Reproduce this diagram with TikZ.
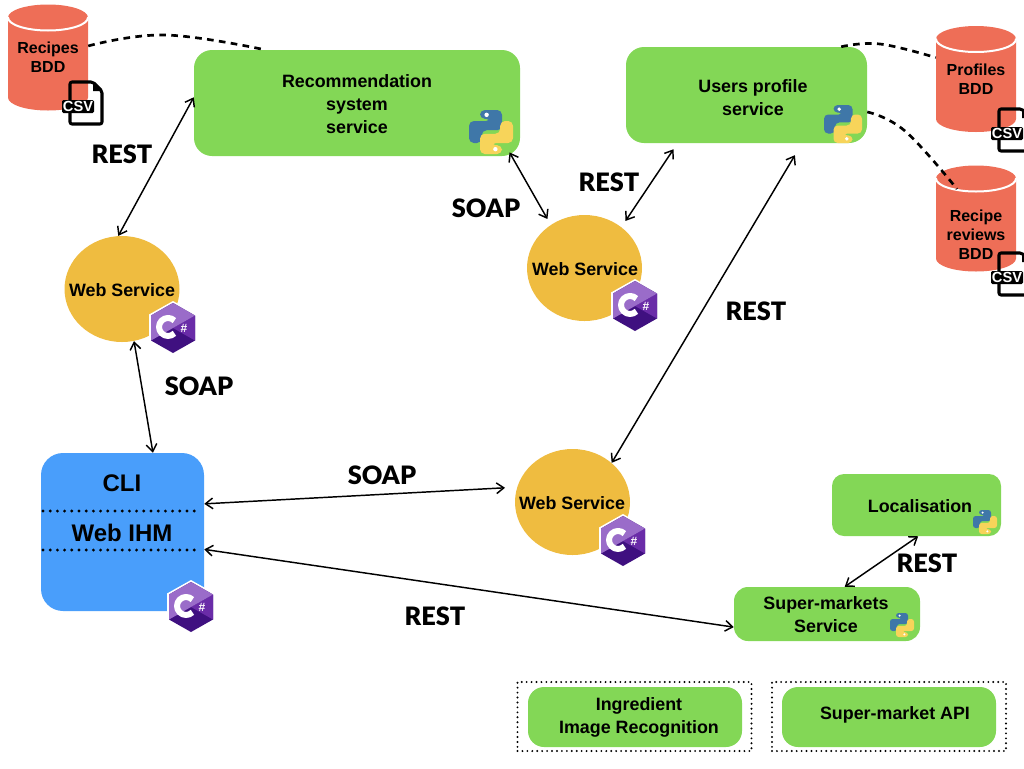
\documentclass[tikz,border=0pt]{standalone}
\usepackage{fontspec}
\setmainfont{Liberation Sans}
\newfontfamily\linkfont{Lato Black}
\usetikzlibrary{shapes.geometric,arrows.meta}
\definecolor{svcgreen}{HTML}{83D756}
\definecolor{dbred}{HTML}{EE6E57}
\definecolor{wsyellow}{HTML}{EFBC40}
\definecolor{cliblue}{HTML}{499EFB}
\definecolor{pyblue}{HTML}{3F77A8}
\definecolor{pyyellow}{HTML}{F7D45A}
\definecolor{cslight}{HTML}{9A6CC9}
\definecolor{csmid}{HTML}{6A2CA8}
\definecolor{csdark}{HTML}{3F1080}
\def\px{0.75pt}
\begin{document}
\begin{tikzpicture}[>={Straight Barb[length=5.5pt,width=8pt]},line join=round,line cap=round,font=\bfseries\fontsize{13.4pt}{17.2pt}\selectfont,x=0.75pt,y=-0.75pt]
\tikzset{svcbox/.style n args={3}{fill=svcgreen,rounded corners=#3*\px,minimum width=#1*\px,minimum height=#2*\px,inner sep=0pt,align=center}}
\tikzset{wsnode/.style={ellipse,fill=wsyellow,minimum width=115*\px,minimum height=106*\px,inner sep=0pt}}
\tikzset{dbnode/.style={minimum width=80*\px,minimum height=106*\px,inner sep=0pt,align=center,font=\bfseries\fontsize{12pt}{14.2pt}\selectfont}}
\tikzset{svctext/.style={align=center,inner sep=0pt}}
\tikzset{clitext/.style={inner sep=0pt,font=\bfseries\fontsize{18pt}{20pt}\selectfont}}
\tikzset{linklabel/.style={inner sep=0pt,font=\linkfont\fontsize{19pt}{22pt}\selectfont}}
\tikzset{dbline/.style={line width=2pt,line cap=butt,dash pattern=on 5pt off 4pt}}
\tikzset{dotline/.style={line width=2.4pt,dash pattern=on 0pt off 5.4pt}}
\tikzset{dotbox/.style={line width=1.6pt,dash pattern=on 0pt off 3.7pt}}
\tikzset{link/.style={<->,line width=1.1pt}}
\tikzset{dbcyl/.pic={
  \fill[dbred] (-40,-40)--(-40,40) arc[x radius=40,y radius=13,start angle=180,end angle=0]--(40,-40) arc[x radius=40,y radius=13,start angle=0,end angle=-180]--cycle;
  \draw[white,line width=1.5pt] (-40,-40) arc[x radius=40,y radius=13,start angle=180,end angle=0];
}}
\tikzset{csharp/.pic={
  \fill[white] (0,-27)--(24,-13.5)--(24,13.5)--(0,27)--(-24,13.5)--(-24,-13.5)--cycle;
  \fill[csdark] (0,-25)--(22,-12.5)--(22,12.5)--(0,25)--(-22,12.5)--(-22,-12.5)--cycle;
  \fill[csmid] (0,0)--(22,-12.5)--(22,12.5)--cycle;
  \fill[cslight] (0,0)--(-22,12.5)--(-22,-12.5)--(0,-25)--(22,-12.5)--cycle;
  \draw[white,line width=4.5pt,line cap=butt] (1.4,-7.4) arc[start angle=-45,end angle=-315,radius=9];
  \node[white,inner sep=0pt,font=\bfseries\fontsize{9pt}{9pt}\selectfont] (-sharp) at (11,0) {\#};
}}
\tikzset{pyicon/.pic={
  \begin{scope}[x=#1*\px,y=#1*\px,rounded corners=0.22*#1*\px]
  \fill[pyblue] (-0.5,1)--(0.5,1)--(0.5,0.08)--(-0.42,0.08)--(-0.42,-0.5)--(-1,-0.5)--(-1,0.5)--(0,0.5)--(0,0.6)--(-0.5,0.6)--cycle;
  \fill[pyyellow] (0.5,-1)--(-0.5,-1)--(-0.5,-0.08)--(0.42,-0.08)--(0.42,0.5)--(1,0.5)--(1,-0.5)--(0,-0.5)--(0,-0.6)--(0.5,-0.6)--cycle;
  \fill[white] (-0.2,0.78) circle (0.1);
  \fill[white] (0.2,-0.78) circle (0.1);
  \end{scope}
}}
\tikzset{csvicon/.pic={
  \draw[line width=2.3pt,rounded corners=1.5pt] (-16,-21)--(7,-21)--(16,-12)--(16,21)--(-16,21)--cycle;
  \fill (7,-21)--(16,-12)--(7,-12)--cycle;
  \fill[rounded corners=1pt] (-24,-3) rectangle (8,10);
  \node[white,inner sep=0pt,font=\bfseries\fontsize{11pt}{11pt}\selectfont] (-lbl) at (-8,3.5) {CSV};
}}
\useasboundingbox (0,0) rectangle (1024,768);
% services
\node[svcbox={326}{106}{18}] (reco) at (357,103) {};
\node[svctext] (recotext) at (357,104) {Recommendation\\system\\service};
\node[svcbox={241}{96}{18}] (users) at (746.5,95) {};
\node[svctext] (userstext) at (753,98) {Users profile\\service};
\node[svcbox={169}{62}{12}] (local) at (916.5,505) {};
\node[svctext] (localtext) at (920,506.5) {Localisation};
\node[svcbox={186}{54}{14}] (super) at (827,614) {};
\node[svctext] (supertext) at (826,614.5) {Super-markets\\Service};
\node[svcbox={214}{60}{16}] (ingred) at (635,717) {};
\node[svctext] (ingredtext) at (639,717) {Ingredient\\Image Recognition};
\node[svcbox={214}{60}{16}] (api) at (889,717) {};
\node[svctext] (apitext) at (895,714.5) {Super-market API};
\node[draw,dotbox,minimum width=234*\px,minimum height=69*\px] (ingredbox) at (634.5,716.5) {};
\node[draw,dotbox,minimum width=234*\px,minimum height=69*\px] (apibox) at (889,716.5) {};
% web services
\node[wsnode] (ws1) at (122,289) {};
\node[wsnode] (ws2) at (584.5,268) {};
\node[wsnode] (ws3) at (572.5,502) {};
\node[svctext] (ws1text) at (122,290.5) {Web Service};
\node[svctext] (ws2text) at (585,269.5) {Web Service};
\node[svctext] (ws3text) at (572,503.5) {Web Service};
% client
\node[fill=cliblue,rounded corners=22*\px,minimum width=163*\px,minimum height=158*\px,inner sep=0pt] (cli) at (122.5,532) {};
\node[clitext] (clitop) at (122,483) {CLI};
\node[clitext] (cliweb) at (122,533) {Web IHM};
\coordinate (dota) at (43,511);
\coordinate (dotb) at (198,511);
\coordinate (dotc) at (43,550);
\coordinate (dotd) at (198,550);
\draw[dotline] (dota)--(dotb);
\draw[dotline] (dotc)--(dotd);
% databases
\pic (recipesdb) at (48,57.5) {dbcyl};
\pic (profilesdb) at (976,79) {dbcyl};
\pic (reviewsdb) at (976,218.5) {dbcyl};
\node[dbnode] (recipes) at (48,57.5) {Recipes\\BDD};
\node[dbnode] (profiles) at (976,79) {Profiles\\BDD};
\node[dbnode] (reviews) at (976,234.5) {Recipe\\reviews\\BDD};
\coordinate (reviewsin) at (957,189);
\draw[dbline] plot[smooth, tension=.7] coordinates {(recipes.16) (165,35) (reco.150.8)};
\draw[dbline] plot[smooth, tension=.7] coordinates {(users.27.7) (880,44) (profiles.152)};
\draw[dbline] plot[smooth, tension=.7] coordinates {(users.352) (905,131) (reviewsin)};
% links
\draw[link] (ws1.94.2)--(reco.178.6);
\draw[link] (ws1.283.5)--(cli.69.6);
\draw[link,shorten >=9pt] (cli.19.2)--(ws3.165.5);
\draw[link] (cli.348.6)--(super.188.7);
\draw[link,shorten <=-3.3pt,shorten >=5pt] (reco.341.6)--(ws2.128.4);
\draw[link,shorten <=5.5pt,shorten >=5.4pt] (ws2.48.6)--(users.215.4);
\draw[link,shorten >=10.4pt] (ws3.45.3)--(users.319.2);
\draw[link] (super.57.8)--(local.273.7);
\node[linklabel] (resta) at (122,154) {REST};
\node[linklabel] (restb) at (609,182) {REST};
\node[linklabel] (restc) at (756,311) {REST};
\node[linklabel] (restd) at (927,563) {REST};
\node[linklabel] (reste) at (435,616) {REST};
\node[linklabel] (soapa) at (486,208) {SOAP};
\node[linklabel] (soapb) at (199,386) {SOAP};
\node[linklabel] (soapc) at (382,475) {SOAP};
% icons
\pic (cs1) at (173,328) {csharp};
\pic (cs2) at (635,306) {csharp};
\pic (cs3) at (623,541) {csharp};
\pic (cs4) at (191,607) {csharp};
\pic (py1) at (491,132) {pyicon=22};
\pic (py2) at (843,124) {pyicon=19};
\pic (py3) at (985,522) {pyicon=12};
\pic (py4) at (902,625) {pyicon=12};
\pic (csv1) at (86,103) {csvicon};
\pic (csv2) at (1015,130) {csvicon};
\pic (csv3) at (1015,274) {csvicon};
\end{tikzpicture}
\end{document}
